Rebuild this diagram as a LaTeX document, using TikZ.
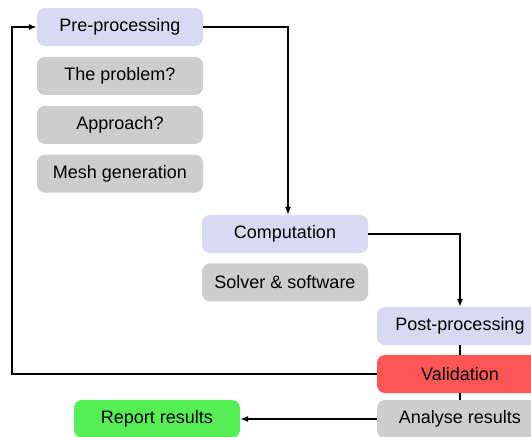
\documentclass[tikz,border=0pt]{standalone}
\usepackage{fontspec}
\setmainfont{Liberation Sans}
\usetikzlibrary{positioning,arrows.meta}
\definecolor{stagecol}{HTML}{D9D9F3}
\definecolor{taskcol}{HTML}{CDCDCD}
\definecolor{checkcol}{HTML}{FF5555}
\definecolor{donecol}{HTML}{55EE55}
\tikzset{
	box/.style={rounded corners=8pt, minimum width=166pt, minimum height=38pt,
		inner sep=0pt, font=\fontsize{18}{20}\selectfont},
	stage/.style={box, fill=stagecol},
	task/.style={box, fill=taskcol},
	link/.style={line width=1.2pt, -{Latex[length=8pt,width=6pt]}},
	joint/.style={line width=1.2pt}
}

\begin{document}
\begin{tikzpicture}[x=1pt,y=-1pt]
		%%%%% START %%%%%
		\clip (0,0) rectangle (531,437);
		
		\node[stage] (pre) at (120, 27) {Pre-processing};
		\node[task, below=10.5pt of pre] (problem) {The problem?};
		\node[task, below=10.5pt of problem] (approach) {Approach?};
		\node[task, below=10.5pt of approach] (mesh) {Mesh generation};
		
		\node[stage] (comp) at (285, 234) {Computation};
		\node[task, below=10pt of comp] (solver) {Solver \& software};
		
		\node[stage] (post) at (460, 326) {Post-processing};
		\node[box, fill=checkcol] (valid) at (460, 374) {Validation};
		\node[task] (analyse) at (460, 419) {Analyse results};
		\node[box, fill=donecol] (report) at (157, 419) {Report results};
		
		\coordinate (back) at (12, 374);
		
		\draw[link] (pre.east) -| ([xshift=3pt]comp.north);
		\draw[link] (comp.east) -| (post.north);
		\draw[joint] (post) -- (valid);
		\draw[joint] (valid) -- (analyse);
		\draw[link] (valid.west) -- (back) |- (pre.west);
		\draw[link] (analyse.west) -- (report.east);
		
		%%%%% END %%%%%
\end{tikzpicture}
\end{document}
